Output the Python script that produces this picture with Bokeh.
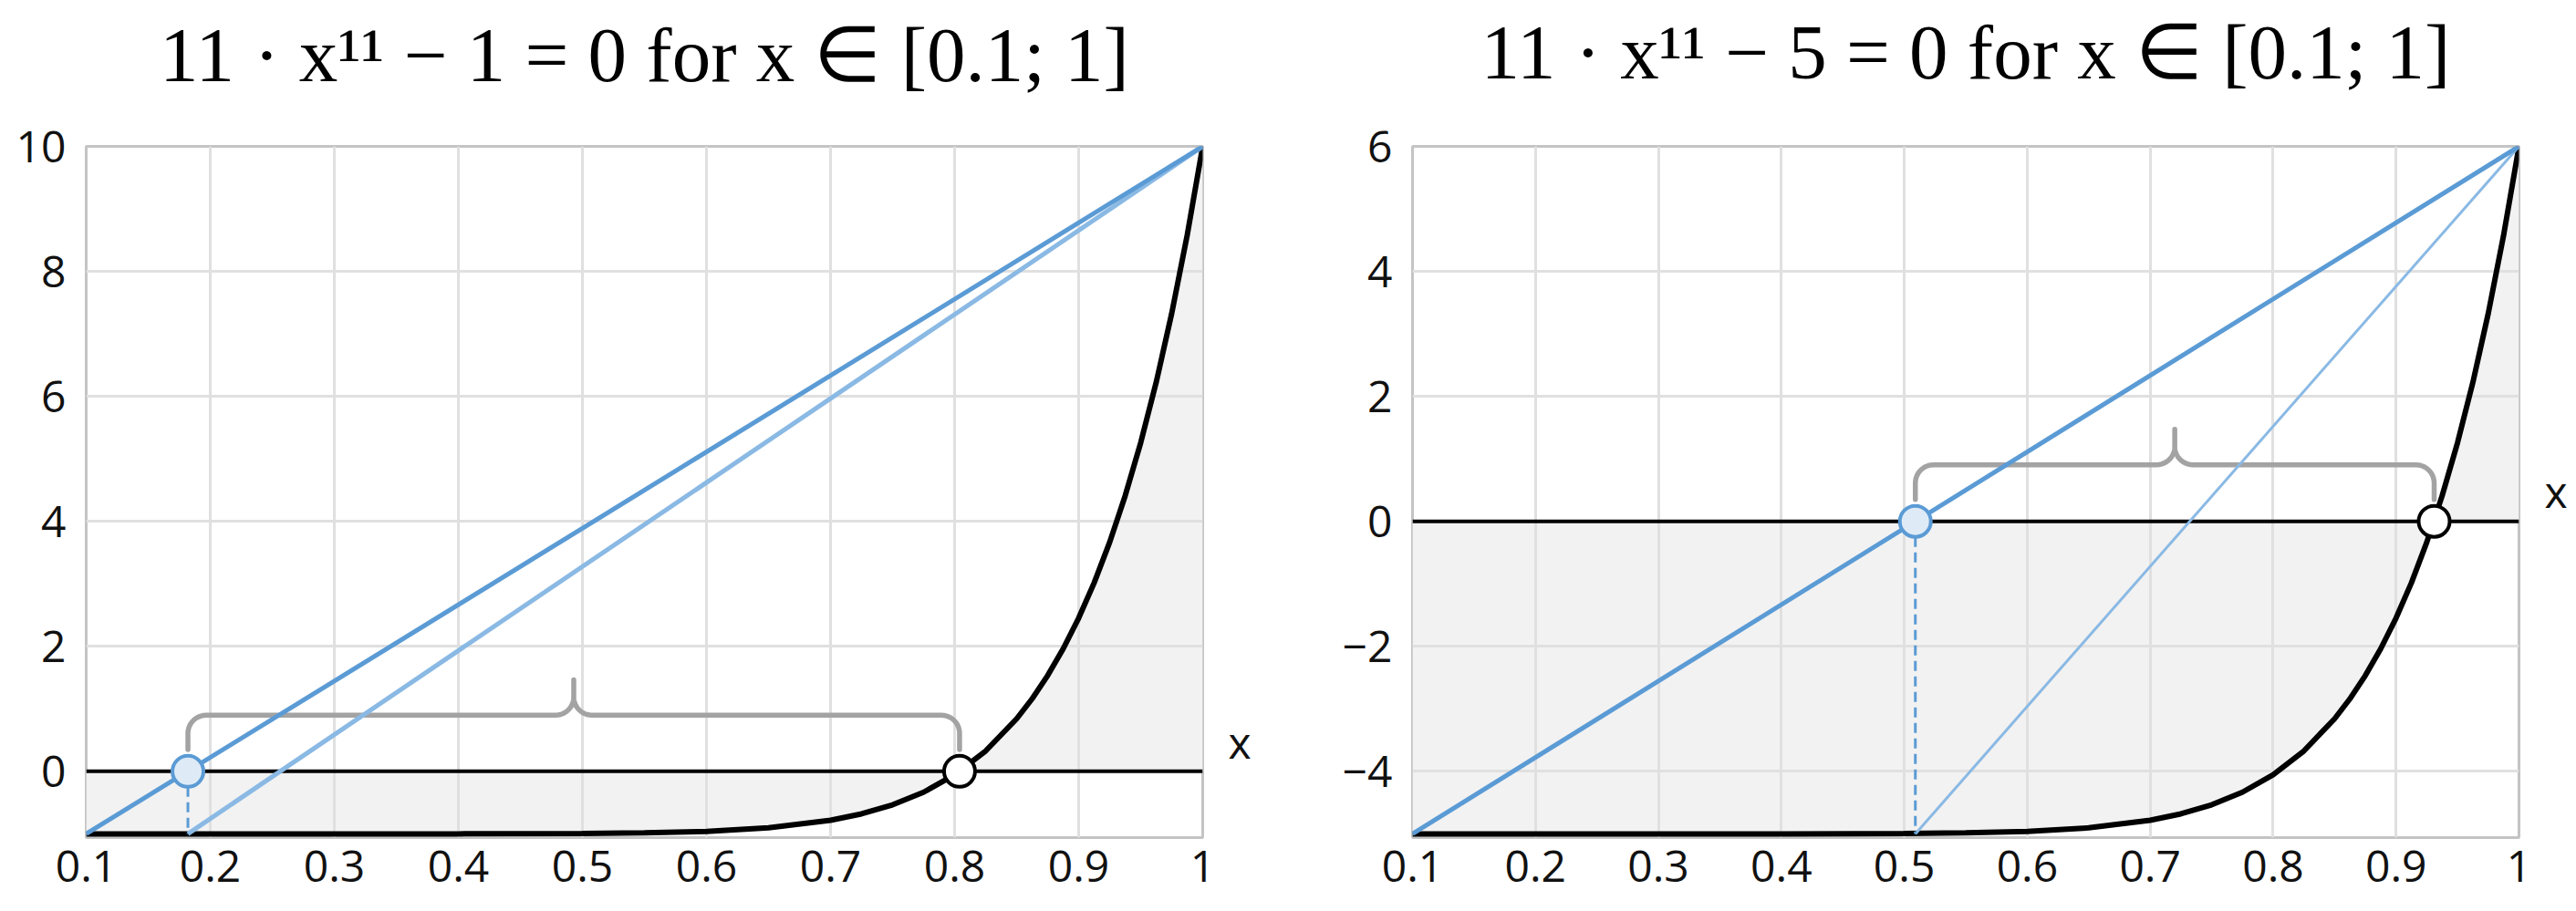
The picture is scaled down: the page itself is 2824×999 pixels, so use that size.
import numpy as np
from bokeh.plotting import figure
from bokeh.layouts import row
from bokeh.models import FixedTicker, LinearAxis
from bokeh.embed import file_html
from bokeh.resources import INLINE

# axes
x_ticks = [0.1, 0.2, 0.3, 0.4, 0.5, 0.6, 0.7, 0.8, 0.9, 1.0]
x_tick_labels = ["0.1", "0.2", "0.3", "0.4", "0.5", "0.6", "0.7", "0.8", "0.9", "1"]
left_y_ticks = [0, 2, 4, 6, 8, 10]
left_y_tick_labels = ["0", "2", "4", "6", "8", "10"]
right_y_ticks = [-4, -2, 0, 2, 4, 6]
right_y_tick_labels = ["\u22124", "\u22122", "0", "2", "4", "6"]

# the curve
curve_x = [0.1, 0.2, 0.3, 0.4, 0.5, 0.55, 0.6, 0.65, 0.7, 0.725, 0.75, 0.775,
           0.8, 0.825, 0.85, 0.8625, 0.875, 0.8875, 0.9, 0.9125, 0.925,
           0.9375, 0.95, 0.9625, 0.975, 0.9875, 1.0]
left_curve_y = [-1.0, -1.0, -1.0, -1.0, -0.995, -0.985, -0.96, -0.904, -0.782,
                -0.68, -0.535, -0.334, -0.055, 0.326, 0.841, 1.161, 1.532,
                1.96, 2.452, 3.017, 3.666, 4.409, 5.257, 6.224, 7.326, 8.579, 10.0]
right_curve_y = [-5.0, -5.0, -5.0, -5.0, -4.995, -4.985, -4.96, -4.904, -4.782,
                 -4.68, -4.535, -4.334, -4.055, -3.674, -3.159, -2.839, -2.468,
                 -2.04, -1.548, -0.983, -0.334, 0.409, 1.257, 2.224, 3.326,
                 4.579, 6.0]

# secant steps
left_secant_x = [0.1, 1.0]
left_secant_y = [-1.0, 10.0]
left_next_x = [0.182, 1.0]
left_next_y = [-1.0, 10.0]
left_estimate = 0.182
left_root = 0.804

right_secant_x = [0.1, 1.0]
right_secant_y = [-5.0, 6.0]
right_next_x = [0.509, 1.0]
right_next_y = [-5.0, 6.0]
right_estimate = 0.509
right_root = 0.931

left_title = "11 \u00b7 x\u00b9\u00b9 \u2212 1 = 0 for x \u2208 [0.1; 1]"
right_title = "11 \u00b7 x\u00b9\u00b9 \u2212 5 = 0 for x \u2208 [0.1; 1]"

BLUE = "#5b9bd5"
LIGHT_BLUE = "#8ab9e4"
TICK_FONT = "Open Sans"
H = 999


def brace(x0, x1, px_x, px_y):
    # curly brace between two x positions, heights in px above zero
    y_end, y_bar, y_tip = 24 * px_y, 62 * px_y, 101 * px_y
    rx, ry = 20 * px_x, 20 * px_y
    xm = (x0 + x1) / 2
    t = np.linspace(0, np.pi / 2, 12)
    xs, ys = [x0], [y_end]
    a = np.pi - t
    xs += list(x0 + rx + rx * np.cos(a)); ys += list(y_bar - ry + ry * np.sin(a))
    a = 1.5 * np.pi + t
    xs += list(xm - rx + rx * np.cos(a)); ys += list(y_bar + ry + ry * np.sin(a))
    xs.append(xm); ys.append(y_tip)
    a = np.pi + t
    xs += list(xm + rx + rx * np.cos(a)); ys += list(y_bar + ry + ry * np.sin(a))
    a = np.pi / 2 - t
    xs += list(x1 - rx + rx * np.cos(a)); ys += list(y_bar - ry + ry * np.sin(a))
    xs.append(x1); ys.append(y_end)
    return xs, ys


def style_axis(ax, font=TICK_FONT, size="48px", color="#111111"):
    ax.axis_line_color = None
    ax.major_tick_line_color = None
    ax.minor_tick_line_color = None
    ax.major_tick_out = 0
    ax.minor_tick_out = 0
    ax.major_label_text_font = font
    ax.major_label_text_font_size = size
    ax.major_label_text_color = color
    ax.major_label_text_line_height = 1.0


def panel(title, y_lo, y_hi, y_ticks, y_labels, curve_y, sec_x, sec_y,
          nxt_x, nxt_y, nxt_w, estimate, root, width, border_l, border_r,
          border_t, frame_w, frame_h, title_gap):
    pad = 0.06
    p = figure(width=width, height=H, x_range=(x_ticks[0], x_ticks[-1]),
               y_range=(y_lo - pad, y_hi), output_backend="svg",
               toolbar_location=None, min_border_left=border_l,
               min_border_right=border_r, min_border_top=border_t,
               min_border_bottom=H - border_t - frame_h)

    p.outline_line_color = "#c4c4c4"
    p.outline_line_width = 3
    p.background_fill_color = "white"

    xax, yax = p.xaxis[0], p.yaxis[0]
    style_axis(xax)
    style_axis(yax)
    xax.ticker = FixedTicker(ticks=x_ticks)
    xax.major_label_overrides = dict(zip(x_ticks, x_tick_labels))
    xax.major_label_standoff = 14
    yax.ticker = FixedTicker(ticks=y_ticks)
    yax.major_label_overrides = dict(zip(y_ticks, y_labels))
    yax.major_label_standoff = 22

    p.xgrid.ticker = FixedTicker(ticks=x_ticks)
    p.ygrid.ticker = FixedTicker(ticks=y_ticks)
    p.grid.grid_line_color = "#e0e0e0"
    p.grid.grid_line_width = 3

    px_x = (x_ticks[-1] - x_ticks[0]) / frame_w
    px_y = (y_hi - y_lo + pad) / frame_h

    # title as the single label of an axis above the frame
    mid = round((x_ticks[0] + x_ticks[-1]) / 2, 3)
    tax = LinearAxis(ticker=FixedTicker(ticks=[mid]),
                     major_label_overrides={mid: title},
                     major_label_standoff=title_gap)
    style_axis(tax, font="Liberation Serif", size="85px", color="black")
    p.add_layout(tax, "above")

    # "x" beside the zero line, as a one-tick axis on the right
    x_pos = round(33 * px_y, 3)
    xname = LinearAxis(ticker=FixedTicker(ticks=[x_pos]),
                       major_label_overrides={x_pos: "x"},
                       major_label_standoff=28)
    style_axis(xname)
    p.add_layout(xname, "right")

    # shaded area between curve and zero
    p.varea(x=curve_x, y1=[0] * len(curve_x), y2=curve_y, fill_color="#f2f2f2",
            level="image")

    p.line([x_ticks[0], x_ticks[-1]], [0, 0], line_color="black", line_width=4)

    bx, by = brace(estimate, root, px_x, px_y)
    p.line(bx, by, line_color="#a3a3a3", line_width=5.5, line_join="round",
           line_cap="round")

    p.line(curve_x, curve_y, line_color="black", line_width=6)
    p.line(nxt_x, nxt_y, line_color=LIGHT_BLUE, line_width=nxt_w)
    p.line(sec_x, sec_y, line_color=BLUE, line_width=5)
    p.line([estimate, estimate], [0, y_lo], line_color=BLUE, line_width=3,
           line_dash="11 6")

    p.scatter([estimate], [0], size=34, fill_color="#deebf7", line_color=BLUE,
              line_width=4)
    p.scatter([root], [0], size=34, fill_color="white", line_color="black",
              line_width=4)
    return p


p1 = panel(left_title, -1.0, 10.0, left_y_ticks, left_y_tick_labels,
           left_curve_y, left_secant_x, left_secant_y, left_next_x, left_next_y,
           5, left_estimate, left_root, 1408, 94, 90, 157, 1224, 763, 54)
p2 = panel(right_title, -5.0, 6.0, right_y_ticks, right_y_tick_labels,
           right_curve_y, right_secant_x, right_secant_y, right_next_x,
           right_next_y, 3, right_estimate, right_root, 1416, 140, 63, 160,
           1213, 758, 57)

layout = row(p1, p2)
open("out.html", "w").write(file_html(layout, INLINE))
